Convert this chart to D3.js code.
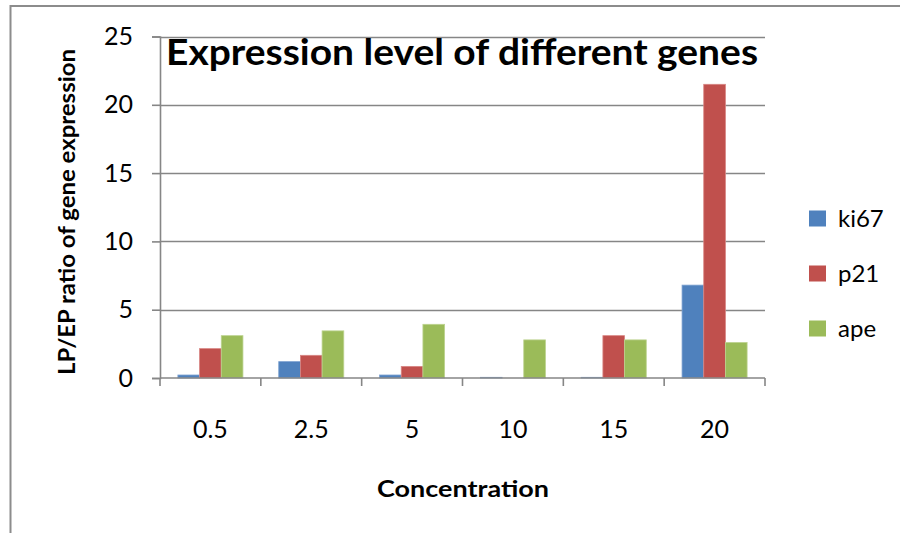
<!DOCTYPE html>
<html>
<head>
<meta charset="utf-8">
<script src="https://cdn.jsdelivr.net/npm/d3@7"></script>
<style>
  html, body { margin: 0; padding: 0; background: #fff; }
  svg { display: block; }
  text { font-family: Lato, "Open Sans", sans-serif; fill: #000; }
</style>
</head>
<body>
<svg id="chart" width="900" height="533"></svg>
<script>
// Concentrations on the x axis
const concentrations = ["0.5", "2.5", "5", "10", "15", "20"];
// LP/EP ratio for each gene at each concentration
const ki67 = [0.22, 1.2, 0.22, 0.05, 0.05, 6.8];
const p21  = [2.15, 1.66, 0.85, 0, 3.1, 21.5];
const ape  = [3.1, 3.45, 3.93, 2.79, 2.79, 2.6];
const seriesNames = ["ki67", "p21", "ape"];
const seriesColors = ["#4F81BD", "#C0504D", "#9BBB59"];
const seriesEdges = ["#7FA3D1", "#D88683", "#BCD38F"];
const yTicks = [0, 5, 10, 15, 20, 25];

const series = [ki67, p21, ape];

const svg = d3.select("#chart");
const axisGray = "#868686";

// outer chart frame (extends past the right and bottom edges)
svg.append("rect")
  .attr("x", 10.5).attr("y", 6)
  .attr("width", 1000).attr("height", 1000)
  .attr("fill", "none")
  .attr("stroke", "#8c8c8c")
  .attr("stroke-width", 2);

const plot = { left: 160, right: 765, top: 36.5, bottom: 378 };

const x = d3.scaleBand()
  .domain(concentrations)
  .range([plot.left, plot.right])
  .padding(0);

const gap = x.bandwidth() * (1 - 1 / 1.55) / 2;
const xs = d3.scaleBand()
  .domain(seriesNames)
  .range([gap, x.bandwidth() - gap])
  .padding(0);

const y = d3.scaleLinear()
  .domain([0, 25])
  .range([plot.bottom, plot.top]);

// horizontal gridlines
svg.append("g")
  .selectAll("line")
  .data(yTicks.filter(d => d > 0))
  .join("line")
  .attr("x1", plot.left).attr("x2", plot.right)
  .attr("y1", d => Math.round(y(d)) + 0.5)
  .attr("y2", d => Math.round(y(d)) + 0.5)
  .attr("stroke", axisGray)
  .attr("stroke-width", 1.6);

// bars
const rows = concentrations.map((c, i) => ({ c, vals: series.map(s => s[i]) }));
const groups = svg.append("g")
  .selectAll("g")
  .data(rows)
  .join("g")
  .attr("transform", d => `translate(${x(d.c)},0)`);

groups.selectAll("rect")
  .data(d => d.vals.map((v, k) => ({ v, k })))
  .join("rect")
  .attr("x", d => xs(seriesNames[d.k]))
  .attr("width", xs.bandwidth())
  .attr("y", d => y(d.v))
  .attr("height", d => y(0) - y(d.v))
  .attr("fill", d => seriesColors[d.k])
  .attr("stroke", d => d.v > 0 ? seriesEdges[d.k] : "none")
  .attr("stroke-width", 0.8);

// y axis
const yAxis = d3.axisLeft(y)
  .tickValues(yTicks)
  .tickSize(8)
  .tickPadding(19)
  .tickFormat(d3.format("d"));
const gy = svg.append("g")
  .attr("transform", `translate(${plot.left},0)`)
  .call(yAxis);
gy.select(".domain").attr("stroke", axisGray).attr("stroke-width", 1.6);
gy.selectAll(".tick line").attr("stroke", axisGray).attr("stroke-width", 1.6);
gy.selectAll(".tick text")
  .style("font-family", "Lato, sans-serif")
  .style("font-size", "25px")
  .attr("fill", "#000");

// x axis: line along zero with ticks at category boundaries
svg.append("line")
  .attr("x1", plot.left).attr("x2", plot.right)
  .attr("y1", y(0)).attr("y2", y(0))
  .attr("stroke", axisGray).attr("stroke-width", 1.6);
const bounds = concentrations.map(c => x(c)).concat([plot.right]);
svg.append("g")
  .selectAll("line")
  .data(bounds)
  .join("line")
  .attr("x1", d => d).attr("x2", d => d)
  .attr("y1", y(0)).attr("y2", y(0) + 8)
  .attr("stroke", axisGray).attr("stroke-width", 1.6);
svg.append("g")
  .selectAll("text")
  .data(concentrations)
  .join("text")
  .attr("x", d => x(d) + x.bandwidth() / 2)
  .attr("y", 438)
  .attr("text-anchor", "middle")
  .style("font-size", "25px")
  .text(d => d);

// title
svg.append("text")
  .attr("x", 166)
  .attr("y", 65)
  .attr("textLength", 592)
  .attr("lengthAdjust", "spacingAndGlyphs")
  .style("font-size", "36px")
  .style("font-weight", "bold")
  .text("Expression level of different genes");

// axis titles
svg.append("text")
  .attr("x", 463)
  .attr("y", 497)
  .attr("text-anchor", "middle")
  .attr("textLength", 172)
  .attr("lengthAdjust", "spacingAndGlyphs")
  .style("font-size", "22px")
  .style("font-weight", "bold")
  .text("Concentration");

svg.append("text")
  .attr("transform", "translate(75,212) rotate(-90)")
  .attr("text-anchor", "middle")
  .attr("textLength", 326)
  .attr("lengthAdjust", "spacingAndGlyphs")
  .style("font-size", "23px")
  .style("font-weight", "bold")
  .text("LP/EP ratio of  gene expression");

// legend
const legend = svg.append("g")
  .selectAll("g")
  .data(seriesNames)
  .join("g")
  .attr("transform", (d, i) => `translate(809,${218.5 + i * 55})`);
legend.append("rect")
  .attr("x", 0).attr("y", -8)
  .attr("width", 17).attr("height", 16)
  .attr("fill", (d, i) => seriesColors[i]);
legend.append("text")
  .attr("x", 29)
  .attr("y", 8)
  .style("font-size", "24px")
  .text(d => d);
</script>
</body>
</html>
